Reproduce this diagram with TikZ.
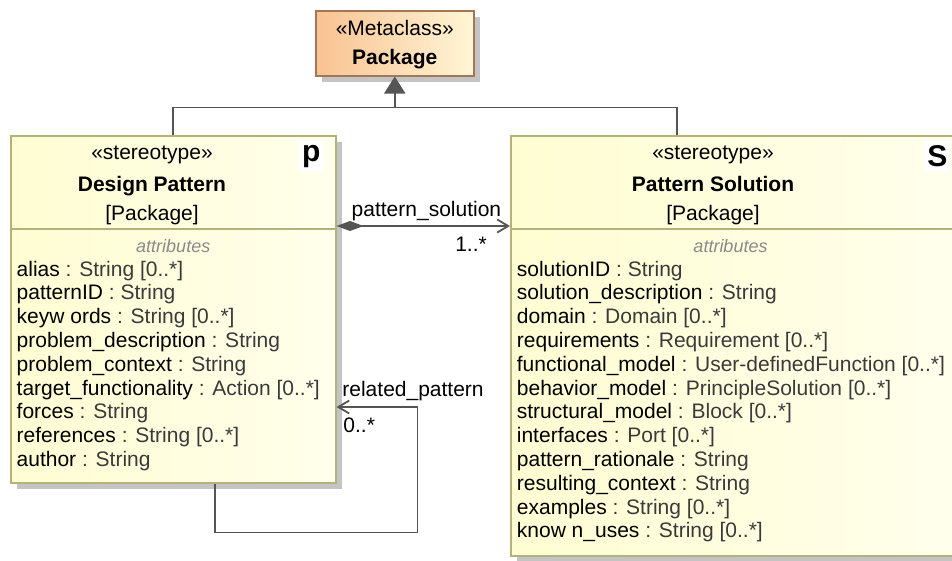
\documentclass[tikz,border=0pt]{standalone}
\usepackage{fontspec}
\setmainfont{Liberation Sans}
\usetikzlibrary{arrows.meta,positioning,calc,shadows}
\definecolor{clsFillL}{HTML}{FEFDD2}
\definecolor{clsFillR}{HTML}{FFFFEC}
\definecolor{clsLine}{HTML}{B2B27A}
\definecolor{metaFillL}{HTML}{F9C292}
\definecolor{metaFillR}{HTML}{FFF6D6}
\definecolor{metaLine}{HTML}{A07858}
\definecolor{connInk}{HTML}{555555}
\definecolor{typeInk}{HTML}{3A3A3A}
\definecolor{shadowg}{HTML}{C4C4C4}
\definecolor{attrg}{HTML}{8A8A8A}
\tikzset{
  every picture/.append style={font=\fontsize{21}{24}\selectfont},
  clsbox/.style  = {draw=clsLine, line width=1.5pt, left color=clsFillL,
                    right color=clsFillR, anchor=north west, inner sep=0pt,
                    drop shadow={shadow xshift=6pt, shadow yshift=-6pt,
                                 fill=shadowg, opacity=1}},
  metabox/.style = {clsbox, draw=metaLine, left color=metaFillL,
                    right color=metaFillR},
  txt/.style     = {inner sep=0pt, anchor=base},
  ttl/.style     = {txt, font=\fontsize{21}{24}\selectfont\bfseries},
  attr/.style    = {inner sep=0pt, anchor=base west},
  attrhd/.style  = {txt, text=attrg, font=\fontsize{18}{20}\selectfont\itshape},
  icon/.style    = {fill=white, inner sep=0pt, minimum width=26pt,
                    minimum height=32pt, anchor=north east,
                    font=\fontsize{30}{30}\selectfont\bfseries},
  gen/.style     = {draw=connInk, line width=1.8pt},
  genhead/.style = {gen, -{Triangle[length=17pt, width=21pt]}},
  comp/.style    = {draw=connInk, line width=1.8pt,
                    {Diamond[length=27pt, width=10pt]}-{Straight Barb[length=11pt, width=13pt]}},
  assoc/.style   = {draw=connInk, line width=1.8pt,
                    -{Straight Barb[length=11pt, width=13pt]}},
}
\begin{document}
\begin{tikzpicture}[x=1pt, y=-1pt]
  \path[use as bounding box] (0,0) rectangle (952,560);
  \clip (0,0) rectangle (952,560);
  % metaclass
  \node[metabox, minimum width=158pt, minimum height=65pt] (pkg) at (315,10) {};
  \node[txt]  (pkgst) at ($(pkg.north)+(0,25)$) {«Metaclass»};
  \node[ttl]  (pkgnm) at ($(pkg.north)+(0,54)$) {Package};
  % stereotype boxes
  \node[clsbox, minimum width=325pt, minimum height=347pt] (dp) at (10,135) {};
  \node[clsbox, minimum width=446pt, minimum height=420pt] (ps) at (510,135) {};
  \draw[clsLine, line width=1.5pt] ($(dp.north west)+(0,94)$) -- ($(dp.north east)+(0,94)$);
  \draw[clsLine, line width=1.5pt] ($(ps.north west)+(0,94)$) -- ($(ps.north east)+(0,94)$);
  \node[icon] (dpicon) at ($(dp.north east)+(-12,5)$) {p};
  \node[icon] (psicon) at ($(ps.north east)+(-7,5)$) {S};
  \node[txt] (dpst) at ($(dp.north west)+(142,24)$) {«stereotype»};
  \node[ttl] (dpnm) at ($(dp.north west)+(142,56.5)$) {Design Pattern};
  \node[txt] (dpmc) at ($(dp.north west)+(142,85)$) {[Package]};
  \node[attrhd] (dphd) at ($(dp.north)+(0,117.7)$) {attributes};
  \node[txt] (psst) at ($(ps.north west)+(203,24)$) {«stereotype»};
  \node[ttl] (psnm) at ($(ps.north west)+(203,56.5)$) {Pattern Solution};
  \node[txt] (psmc) at ($(ps.north west)+(203,85)$) {[Package]};
  \node[attrhd] (pshd) at ($(ps.north west)+(220.5,117.7)$) {attributes};
  % attributes
  \foreach \nm/\ty [count=\i from 0] in {alias/{String [0..*]}, patternID/String,
      keyw ords/{String [0..*]}, problem\_description/String,
      problem\_context/String, target\_functionality/{Action [0..*]},
      forces/String, references/{String [0..*]}, author/String}{%
    \node[attr] (dpa\i) at ($(dp.north west)+(6.5,141+23.8*\i)$)
      {\nm\ \textcolor{typeInk}{: \ty}};}
  \foreach \nm/\ty [count=\i from 0] in {solutionID/String,
      solution\_description/String, domain/{Domain [0..*]},
      requirements/{Requirement [0..*]},
      functional\_model/{User-definedFunction [0..*]},
      behavior\_model/{PrincipleSolution [0..*]},
      structural\_model/{Block [0..*]}, interfaces/{Port [0..*]},
      pattern\_rationale/String, resulting\_context/String,
      examples/{String [0..*]}, know n\_uses/{String [0..*]}}{%
    \node[attr] (psa\i) at ($(ps.north west)+(6.7,141+23.8*\i)$)
      {\nm\ \textcolor{typeInk}{: \ty}};}
  % generalization
  \coordinate (genjoin) at ($(pkg.south)+(0,31)$);
  \draw[gen] (dp.north) |- (genjoin);
  \draw[gen] ($(ps.north west)+(167,0)$) |- (genjoin);
  \draw[genhead] (genjoin) -- (pkg.south);
  % composition and self association
  \draw[comp] ($(dp.north east)+(0,91)$) -- ($(ps.north west)+(0,91)$);
  \node[attr] (complbl) at ($(dp.north east)+(15,81.7)$) {pattern\_solution};
  \node[txt, anchor=base east] (compmul) at ($(ps.north west)+(-23,116.7)$) {1..*};
  \draw[assoc] ($(dp.south west)+(205,0)$) -- ++(0,49)
    -| ($(dp.north east)+(81,272)$) -- ($(dp.north east)+(0,272)$);
  \node[attr] (rellbl) at ($(dp.north east)+(5.7,261.7)$) {related\_pattern};
  \node[attr] (relmul) at ($(dp.north east)+(6.7,297.7)$) {0..*};
\end{tikzpicture}
\end{document}
